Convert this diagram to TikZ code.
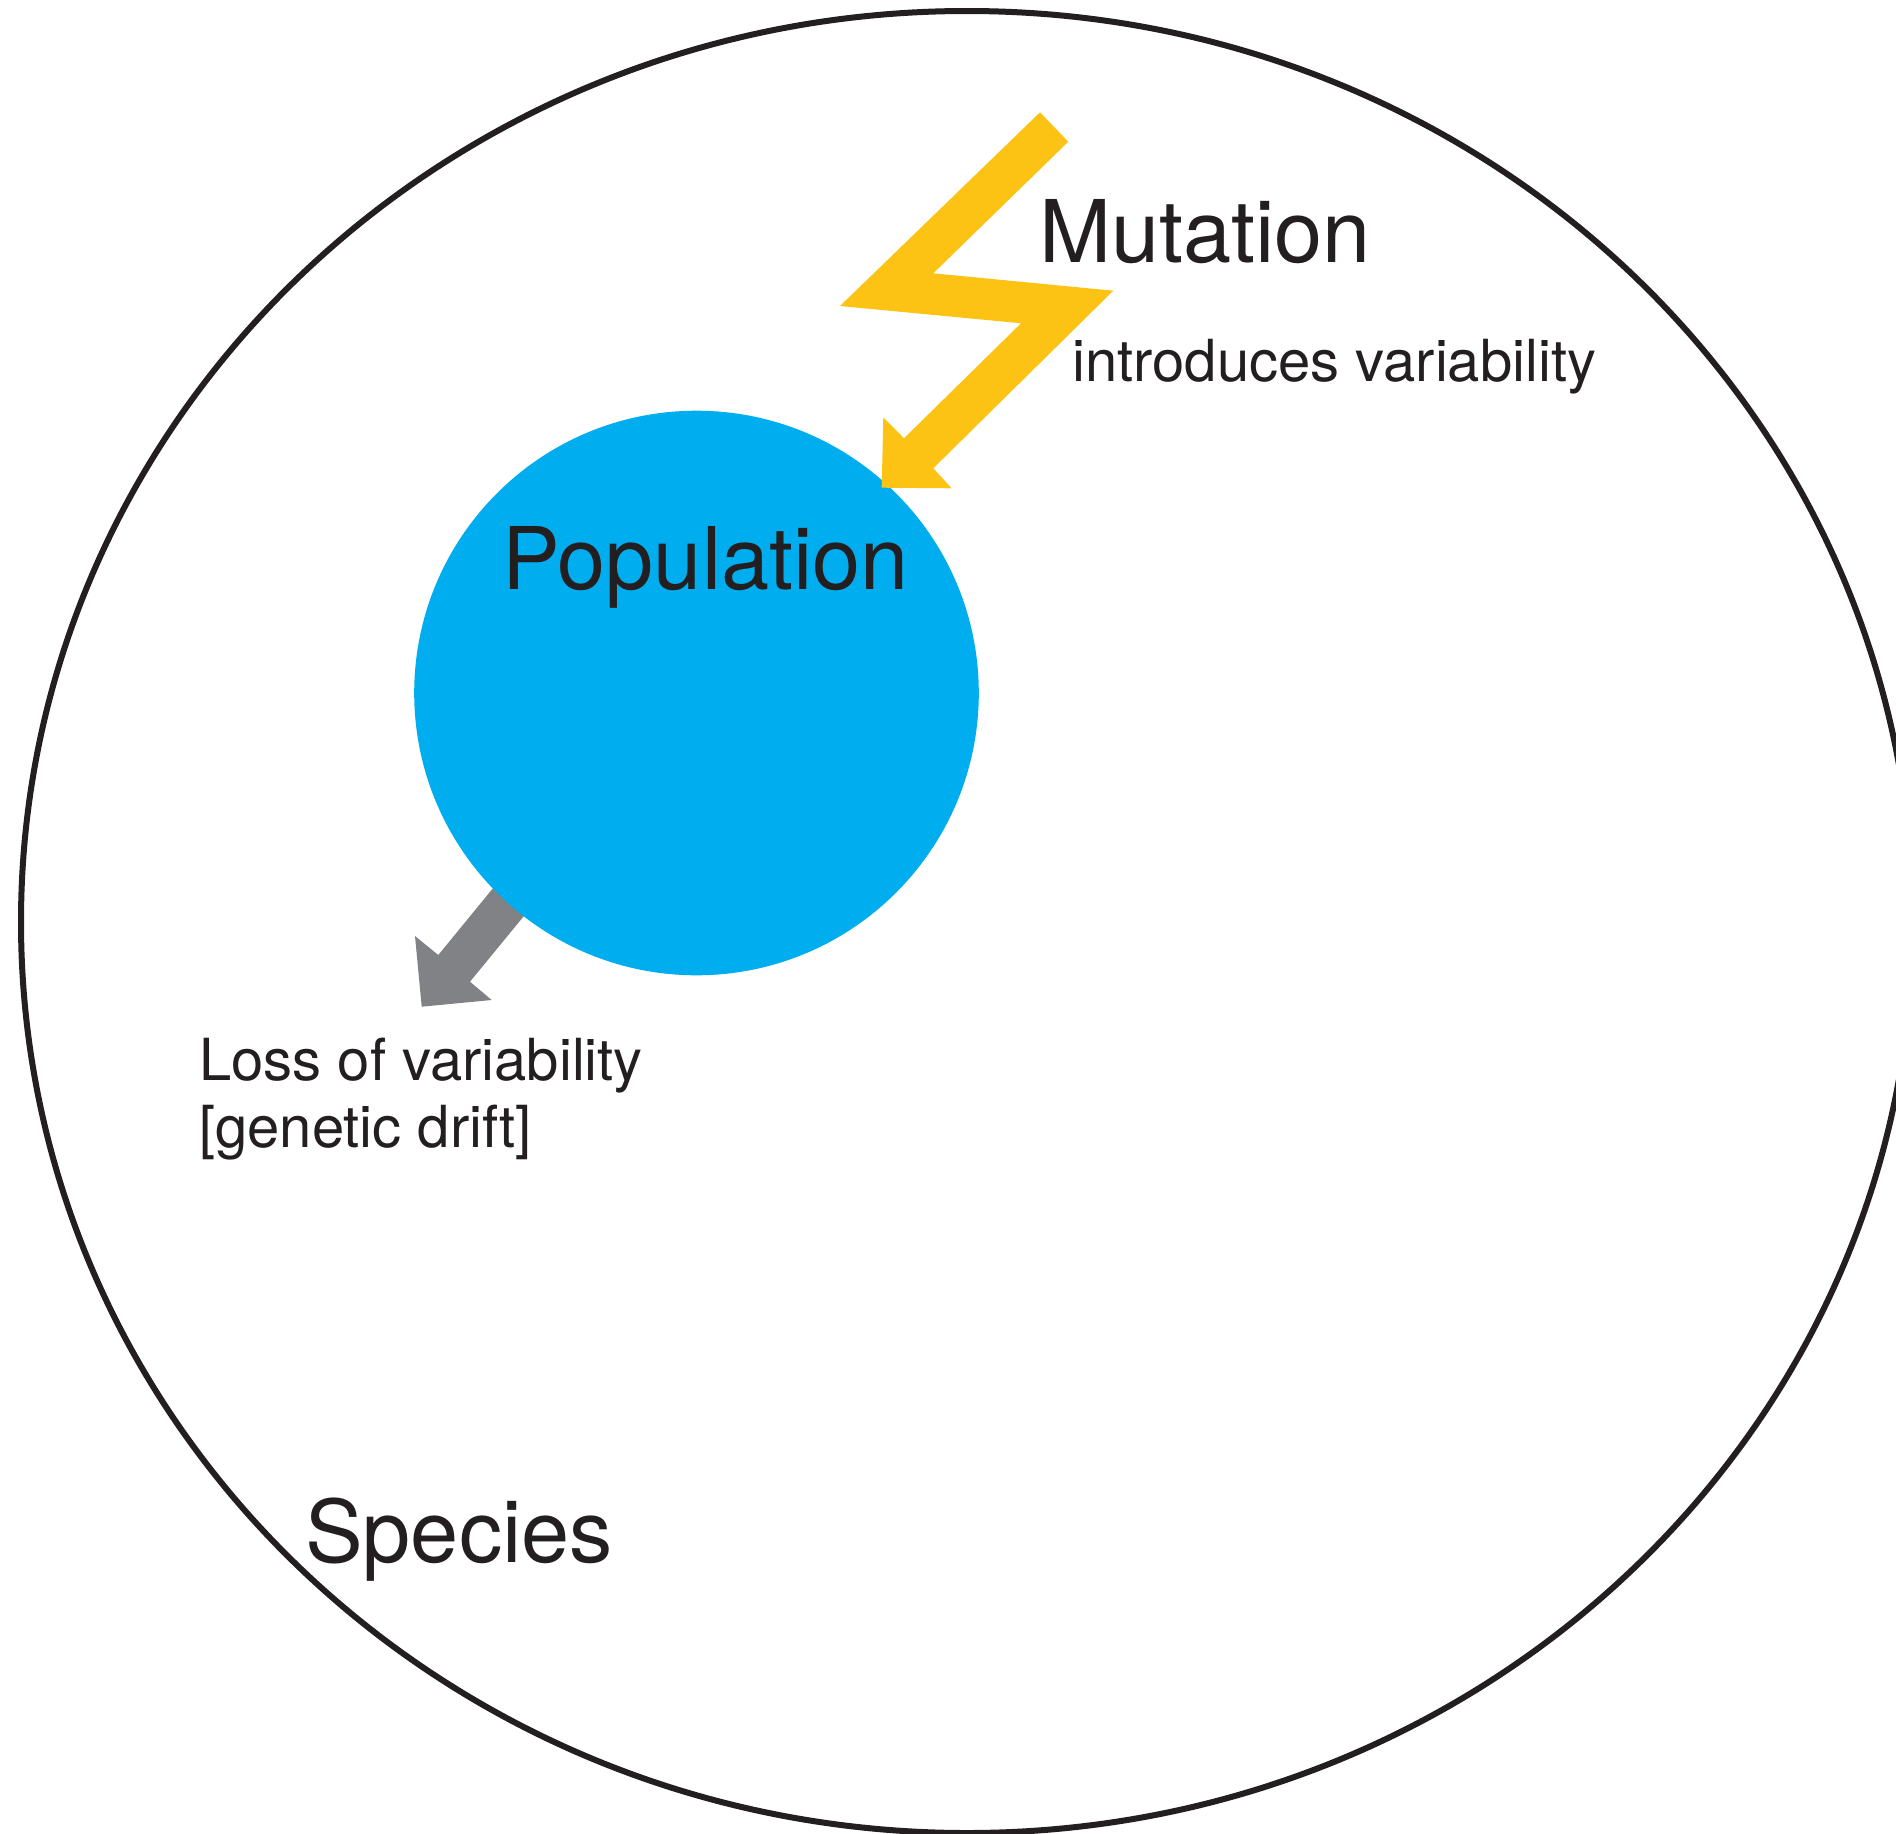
\documentclass[tikz,border=0pt]{standalone}
\usepackage{fontspec}
\setmainfont{TeX Gyre Heros}
\definecolor{inkdark}{HTML}{231F20}
\definecolor{popblue}{HTML}{00AEEF}
\definecolor{boltyellow}{HTML}{FDC314}
\definecolor{driftgrey}{HTML}{808285}
\begin{document}
\begin{tikzpicture}[x=1pt,y=-1pt,
  bigtext/.style={inner sep=0pt, anchor=base west, text=inkdark,
    font=\fontsize{86.5}{100}\selectfont},
  smalltext/.style={inner sep=0pt, anchor=base west, text=inkdark,
    font=\fontsize{58}{67}\selectfont, align=left},
  outline/.style={draw=inkdark, line width=6pt}]
\useasboundingbox (0,0) rectangle (1896,1834);

% species boundary
\coordinate (speciescentre) at (967,922);
\draw[outline] (speciescentre) ellipse [x radius=946, y radius=911];

% genetic drift arrow (its tail sits beneath the population disc)
\coordinate (popcentre) at (696.5,693);
\fill[driftgrey] (530,843) -- (438.3,955) -- (415,936) -- (421.7,1006.7)
  -- (491.7,1000) -- (470,981.7) -- (561.7,870) -- cycle;

% population
\node[circle, fill=popblue, minimum size=564.6pt, inner sep=0pt] (pop) at (popcentre) {};

% mutation bolt
\fill[boltyellow] (1040,112.3) -- (1068.3,141.7) -- (933.3,273.3) -- (1113.3,290.7)
  -- (933.3,468.3) -- (951.7,488.3) -- (881.7,487.7) -- (883.3,417.3)
  -- (904,438.3) -- (1021,323.3) -- (840,306) -- cycle;

% labels
\node[bigtext] (mutation) at (1039,262) {Mutation};
\node[smalltext] (introduces) at (1072,381) {introduces variability};
\node[bigtext] (poplabel) at (502,589) {Population};
\node[smalltext] (loss) at (199,1147) {Loss of variability\\{}[genetic drift]};
\node[bigtext] (species) at (305,1562) {Species};
\end{tikzpicture}
\end{document}
